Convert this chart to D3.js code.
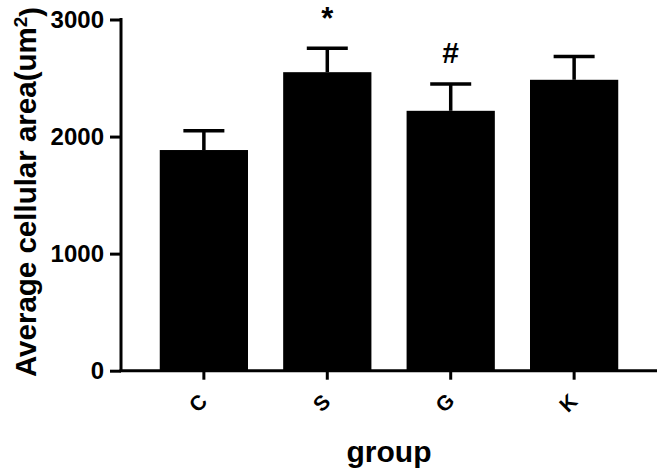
<!DOCTYPE html>
<meta charset="utf-8">
<style>
body { margin: 0; background: #fff; }
svg text { font-family: "Liberation Sans", Arial, sans-serif; font-weight: bold; fill: #000; }
.axis path, .axis line { stroke: #000; stroke-width: 3px; }
</style>
<svg width="661" height="474"></svg>
<script src="https://d3js.org/d3.v7.min.js"></script>
<script>

// data
var groups = ["C", "S", "G", "K"]
var means = [1885, 2550, 2220, 2485]
var errors = [165, 205, 230, 200]
var marks = ["", "*", "#", ""]
var yTicks = [0, 1000, 2000, 3000]

var svg = d3.select("svg")

var x = d3.scaleBand()
	.domain(groups)
	.range([121, 657])
	.paddingInner(0.285)
	.paddingOuter(0.314)

var y = d3.scaleLinear()
	.domain([0, 3000])
	.range([370.7, 19.5])

// bars
svg.append("g").selectAll("rect")
	.data(groups)
	.enter().append("rect")
	.attr("x", function (d) { return x(d) })
	.attr("width", x.bandwidth())
	.attr("y", function (d, i) { return y(means[i]) })
	.attr("height", function (d, i) { return y(0) - y(means[i]) })
	.attr("fill", "#000")

// error bars (upper only)
var err = svg.append("g").attr("stroke", "#000").attr("stroke-width", 3.5)
groups.forEach(function (d, i) {
	var cx = x(d) + x.bandwidth() / 2
	err.append("line")
		.attr("x1", cx).attr("x2", cx)
		.attr("y1", y(means[i])).attr("y2", y(means[i] + errors[i]))
	err.append("line")
		.attr("x1", cx - 20.5).attr("x2", cx + 20.5)
		.attr("y1", y(means[i] + errors[i])).attr("y2", y(means[i] + errors[i]))
})

// significance marks
svg.append("g").selectAll("text")
	.data(groups)
	.enter().append("text")
	.attr("x", function (d) { return x(d) + x.bandwidth() / 2 })
	.attr("y", function (d, i) { return marks[i] === "*" ? 29 : 63 })
	.attr("text-anchor", "middle")
	.style("font-size", function (d, i) { return marks[i] === "*" ? "31px" : "30px" })
	.text(function (d, i) { return marks[i] })

// y axis
var yAxis = svg.append("g")
	.attr("class", "axis")
	.attr("transform", "translate(121,0)")
	.call(d3.axisLeft(y).tickValues(yTicks).tickFormat(d3.format("d"))
		.tickSize(11).tickSizeOuter(0).tickPadding(6))
yAxis.selectAll("text").style("font-size", "24px")
yAxis.select(".domain").attr("d", "M0," + (y(3000) - 1.5) + "V" + y(0))

// x axis
var xAxis = svg.append("g")
	.attr("class", "axis")
	.attr("transform", "translate(0," + y(0) + ")")
	.call(d3.axisBottom(x).tickSize(9).tickSizeOuter(0))
xAxis.select(".domain").attr("d", "M119.5,0H657")
xAxis.selectAll("text")
	.style("font-size", "21px")
	.attr("text-anchor", "middle")
	.attr("y", 0)
	.attr("dy", "0.36em")
	.attr("transform", "translate(-6,32) rotate(-45)")

// axis titles
svg.append("text")
	.attr("x", 389)
	.attr("y", 462)
	.attr("text-anchor", "middle")
	.style("font-size", "30px")
	.text("group")

var yTitle = svg.append("text")
	.attr("transform", "translate(36,192) rotate(-90)")
	.attr("text-anchor", "middle")
	.style("font-size", "29.5px")
yTitle.append("tspan").text("Average cellular area(um")
yTitle.append("tspan").attr("dy", "-0.45em").style("font-size", "19px").text("2")
yTitle.append("tspan").attr("dy", "0.45em").text(")")

</script>
